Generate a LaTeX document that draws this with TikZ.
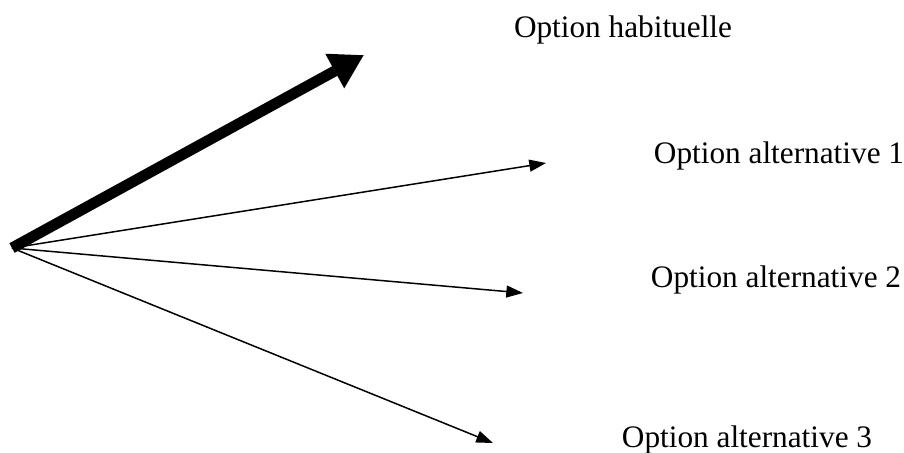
\documentclass[tikz,border=0pt]{standalone}
\usepackage{fontspec}
\setmainfont{Liberation Serif}
\usetikzlibrary{arrows.meta}
\begin{document}
\begin{tikzpicture}[x=0.02cm, y=-0.02cm, label/.style={font=\fontsize{17.8}{21}\selectfont, inner sep=0pt}, choice/.style={line width=0.85pt, -{Triangle[length=9.5pt,width=6.8pt]}}, usual/.style={line width=6.2pt, -{Triangle[length=19pt,width=21pt]}}]

        \useasboundingbox (0,0) rectangle (904,453);
        \coordinate (o) at (12, 248);
        \coordinate (t0) at (364, 55);
        \coordinate (t1) at (546, 163);
        \coordinate (t2) at (523, 293);
        \coordinate (t3) at (493, 443);
        \node[label] (l0) at (623, 30) {Option habituelle};
        \node[label] (l1) at (779, 156) {Option alternative 1};
        \node[label] (l2) at (776, 280) {Option alternative 2};
        \node[label] (l3) at (747, 440) {Option alternative 3};
        \draw[usual] (o) -- (t0);
        \draw[choice] (o) -- (t1);
        \draw[choice] (o) -- (t2);
        \draw[choice] (o) -- (t3);

    \end{tikzpicture}
\end{document}
